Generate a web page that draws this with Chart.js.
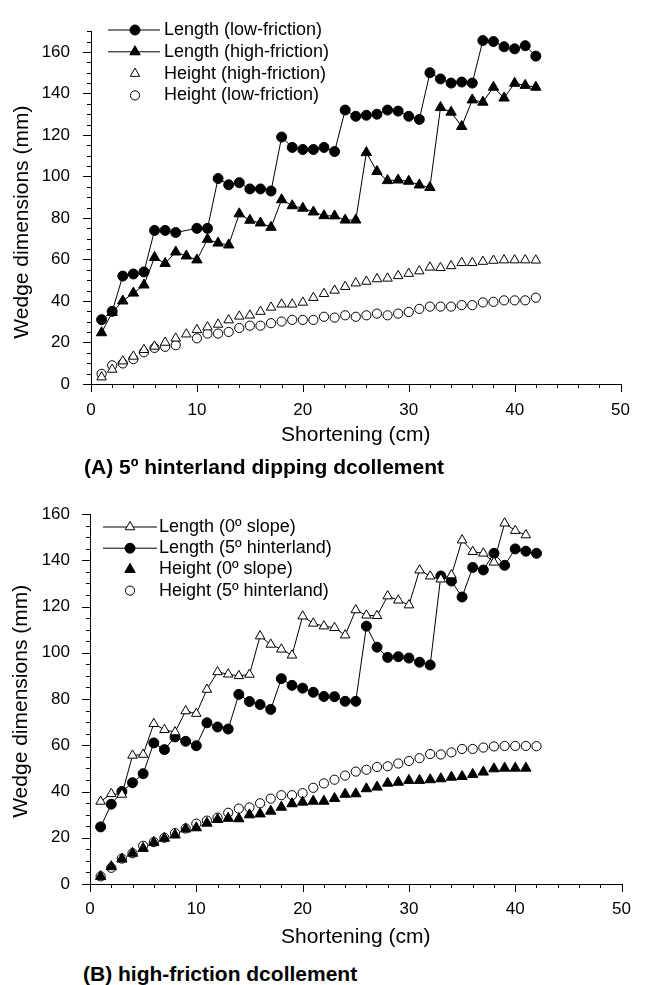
<!DOCTYPE html>
<html>
<head>
<meta charset="utf-8">
<script src="https://cdn.jsdelivr.net/npm/chart.js@4.4.1/dist/chart.umd.min.js"></script>
<style>
  html, body { margin: 0; padding: 0; background: #fff; }
  #page { position: relative; width: 646px; height: 985px; }
  canvas { position: absolute; left: 0; }
  .caption { position: absolute; font: bold 21px "Liberation Sans", Arial, sans-serif; line-height: 25px; color: #000; white-space: nowrap; }
</style>
</head>
<body>
<div id="page">
  <canvas id="chartA" width="646" height="455" style="top:0px"></canvas>
  <div class="caption" style="left:84px; top:454px">(A) 5º hinterland dipping dcollement</div>
  <canvas id="chartB" width="646" height="470" style="top:480px"></canvas>
  <div class="caption" style="left:83px; top:961px">(B) high-friction dcollement</div>
</div>
<script>
// shortening steps (cm)
var shortening = [1, 2, 3, 4, 5, 6, 7, 8, 9, 10, 11, 12, 13, 14, 15, 16, 17, 18, 19, 20, 21,
  22, 23, 24, 25, 26, 27, 28, 29, 30, 31, 32, 33, 34, 35, 36, 37, 38, 39, 40, 41, 42];
// low-friction run has no measurement at 9 cm
var shorteningLow = [1, 2, 3, 4, 5, 6, 7, 8, 10, 11, 12, 13, 14, 15, 16, 17, 18, 19, 20, 21,
  22, 23, 24, 25, 26, 27, 28, 29, 30, 31, 32, 33, 34, 35, 36, 37, 38, 39, 40, 41, 42];
// 0 deg slope run stops at 41 cm
var shortening0 = [1, 2, 3, 4, 5, 6, 7, 8, 9, 10, 11, 12, 13, 14, 15, 16, 17, 18, 19, 20, 21,
  22, 23, 24, 25, 26, 27, 28, 29, 30, 31, 32, 33, 34, 35, 36, 37, 38, 39, 40, 41];

// (A) 5 deg hinterland dipping decollement
var lengthLowFriction = [31, 35, 52, 53, 54, 74, 74, 73, 75, 75, 99, 96, 97, 94, 94, 93, 119,
  114, 113, 113, 114, 112, 132, 129, 129.5, 130, 132, 131.5, 129, 127.5, 150, 147, 145, 145.5,
  145, 165.5, 165, 162.5, 161.5, 163, 158];
var heightLowFriction = [4.9, 9, 9.9, 12, 15.3, 17.4, 17.9, 18.7, 22, 24.3, 24.3, 25.1, 27, 28.1,
  28.1, 29.3, 30.1, 30.9, 30.9, 30.9, 32.4, 32, 33.1, 32.4, 33.1, 33.9, 33.1, 33.9, 34.7, 36.2,
  37.3, 37.3, 37.3, 38, 38, 39.3, 39.6, 40.3, 40.3, 40.3, 41.6];
// high-friction + 5 deg hinterland (shared by both panels)
var lengthHighFriction = [24.7, 34.5, 40, 43.8, 47.7, 61, 58.1, 63.6, 61.7, 59.8, 69.7, 67.9, 67,
  82, 78.9, 77.6, 75.5, 88.8, 85.9, 84.7, 82.9, 81.1, 81, 79, 79, 111.5, 102.4, 98, 98.3, 97.7,
  95.9, 94.7, 133.2, 131, 124.1, 136.9, 135.8, 143, 137.8, 144.9, 143.9, 143];
var heightHighFriction = [3.3, 7, 11, 13.3, 16.5, 18.1, 20, 22, 24, 26.1, 27.4, 28.7, 30.8, 32.6,
  33.1, 34.9, 36.9, 38.4, 38.4, 39.3, 41.6, 43.5, 45.1, 46.9, 48.6, 49.4, 50.6, 50.9, 52.1, 53.2,
  54.4, 56.2, 56, 56.9, 58.4, 58.4, 59, 59.5, 59.7, 59.7, 59.7, 59.6];

// (B) high-friction decollement, 0 deg slope
var length0Slope = [35.7, 39, 38.7, 55.6, 56, 69.3, 66.7, 65.7, 74.8, 73.7, 84.1, 91.7, 90.7, 90,
  90.6, 107.2, 103.6, 101.5, 98.9, 115.8, 112.7, 111.5, 110.8, 107.6, 118.5, 116.2, 116, 124.5,
  122.7, 120.6, 135.7, 133.1, 131.8, 133.6, 148.7, 143.7, 143, 139.1, 156, 152.8, 150.9];
var height0Slope = [3.2, 7.5, 10.8, 13.3, 15.4, 18, 19.8, 21.2, 23.8, 24.3, 26.3, 27.9, 28.4,
  28.2, 29.9, 30.3, 31.5, 33.2, 34.7, 35.4, 35.8, 35.8, 37, 38.8, 39, 41.2, 41.9, 43.6, 44, 44.8,
  44.8, 45.1, 45.5, 46.2, 46.5, 47.4, 48.4, 49.8, 50.1, 50.1, 50.1];

var FONT = '"Liberation Sans", Arial, sans-serif';
Chart.defaults.font.family = FONT;
Chart.defaults.color = '#000';

function pts(xs, ys) {
  return xs.map(function (x, i) { return { x: x, y: ys[i] }; });
}

function series(label, xs, ys, style, filled, line) {
  var tri = style === 'triangle';
  return {
    label: label,
    data: pts(xs, ys),
    showLine: line,
    borderColor: '#000',
    borderWidth: 1,
    pointStyle: style,
    pointRadius: tri ? (filled ? 6 : 5.5) : (filled ? 5 : 4.6),
    pointHoverRadius: tri ? 6 : 5,
    pointBorderWidth: 1,
    pointBorderColor: '#000',
    pointBackgroundColor: filled ? '#000' : '#fff'
  };
}

function marker(ctx, style, r, x, y, fill) {
  ctx.beginPath();
  if (style === 'triangle') {
    ctx.moveTo(x, y - r);
    ctx.lineTo(x + 0.866 * r, y + 0.5 * r);
    ctx.lineTo(x - 0.866 * r, y + 0.5 * r);
    ctx.closePath();
  } else {
    ctx.arc(x, y, r, 0, Math.PI * 2);
  }
  ctx.fillStyle = fill;
  ctx.fill();
  ctx.lineWidth = 1;
  ctx.strokeStyle = '#000';
  ctx.stroke();
}

// minor/major tick marks, rotated y title and the in-plot legend
var decor = {
  id: 'decor',
  afterDraw: function (chart, args, o) {
    var ctx = chart.ctx, xs = chart.scales.x, ys = chart.scales.y;
    ctx.save();
    ctx.strokeStyle = '#000';
    ctx.lineWidth = 1;
    xs.ticks.forEach(function (t) {
      var px = Math.round(xs.getPixelForValue(t.value)) + 0.5;
      var len = t.value % 10 === 0 ? 8 : 4;
      ctx.beginPath(); ctx.moveTo(px, xs.top); ctx.lineTo(px, xs.top + len); ctx.stroke();
    });
    ys.ticks.forEach(function (t) {
      var py = Math.round(ys.getPixelForValue(t.value)) + 0.5;
      var len = t.value % 20 === 0 ? 8 : 4;
      ctx.beginPath(); ctx.moveTo(ys.right, py); ctx.lineTo(ys.right - len, py); ctx.stroke();
    });

    ctx.fillStyle = '#000';
    ctx.font = '21px ' + FONT;
    ctx.textAlign = 'center';
    ctx.textBaseline = 'middle';
    ctx.save();
    ctx.translate(o.titleX, ys.getPixelForValue(o.titleAt));
    ctx.rotate(-Math.PI / 2);
    ctx.fillText(o.title, 0, 0);
    ctx.restore();

    var L = o.legend;
    ctx.font = '18px ' + FONT;
    ctx.textAlign = 'left';
    chart.data.datasets.forEach(function (ds, i) {
      var y = L.y + i * L.dy;
      if (ds.showLine) {
        ctx.beginPath(); ctx.moveTo(L.x0, y); ctx.lineTo(L.x1, y); ctx.stroke();
      }
      marker(ctx, ds.pointStyle, ds.pointRadius, L.mx, y, ds.pointBackgroundColor);
      ctx.fillStyle = '#000';
      ctx.fillText(ds.label, L.tx, y);
    });
    ctx.restore();
  }
};

function makeChart(id, datasets, yMax, box) {
  return new Chart(document.getElementById(id).getContext('2d'), {
    type: 'scatter',
    data: { datasets: datasets },
    plugins: [decor],
    options: {
      responsive: false,
      animation: false,
      layout: { padding: { left: 0, right: box.right, top: box.top, bottom: 0 } },
      plugins: {
        legend: { display: false },
        tooltip: { enabled: false },
        decor: box.decor
      },
      scales: {
        x: {
          type: 'linear',
          min: 0, max: 50,
          afterFit: function (s) { s.height = box.xh; },
          grid: { display: false, drawTicks: false },
          border: { display: true, color: '#000', width: 1 },
          ticks: {
            stepSize: 2, autoSkip: false, maxRotation: 0, padding: box.xpad,
            font: { size: 17 }, color: '#000',
            callback: function (v) { return v % 10 === 0 ? v : ''; }
          },
          title: {
            display: true, text: 'Shortening (cm)', color: '#000',
            font: { size: 21 }, padding: { top: 0, bottom: box.tpad }
          }
        },
        y: {
          type: 'linear',
          min: 0, max: yMax,
          afterFit: function (s) { s.width = box.yw; },
          grid: { display: false, drawTicks: false },
          border: { display: true, color: '#000', width: 1 },
          ticks: {
            stepSize: 5, autoSkip: false, padding: box.ypad,
            font: { size: 17 }, color: '#000',
            callback: function (v) { return v % 20 === 0 ? v : ''; }
          }
        }
      }
    }
  });
}

makeChart('chartA', [
  series('Length (low-friction)', shorteningLow, lengthLowFriction, 'circle', true, true),
  series('Length (high-friction)', shortening, lengthHighFriction, 'triangle', true, true),
  series('Height (high-friction)', shortening, heightHighFriction, 'triangle', false, false),
  series('Height (low-friction)', shorteningLow, heightLowFriction, 'circle', false, false)
], 170, {
  right: 10, top: 14, xh: 71, yw: 91, xpad: 16, ypad: 21, tpad: 7,
  decor: {
    title: 'Wedge dimensions (mm)', titleX: 22, titleAt: 78,
    legend: { x0: 108, x1: 160, mx: 135, tx: 164, y: 30, dy: 21.8 }
  }
});

makeChart('chartB', [
  series('Length (0º slope)', shortening0, length0Slope, 'triangle', false, true),
  series('Length (5º hinterland)', shortening, lengthHighFriction, 'circle', true, true),
  series('Height (0º slope)', shortening0, height0Slope, 'triangle', true, false),
  series('Height (5º hinterland)', shortening, heightHighFriction, 'circle', false, false)
], 160, {
  right: 11, top: 34, xh: 66, yw: 90, xpad: 15, ypad: 20, tpad: 0,
  decor: {
    title: 'Wedge dimensions (mm)', titleX: 21, titleAt: 79,
    legend: { x0: 103, x1: 157, mx: 130, tx: 159, y: 47, dy: 21.2 }
  }
});
</script>
</body>
</html>
